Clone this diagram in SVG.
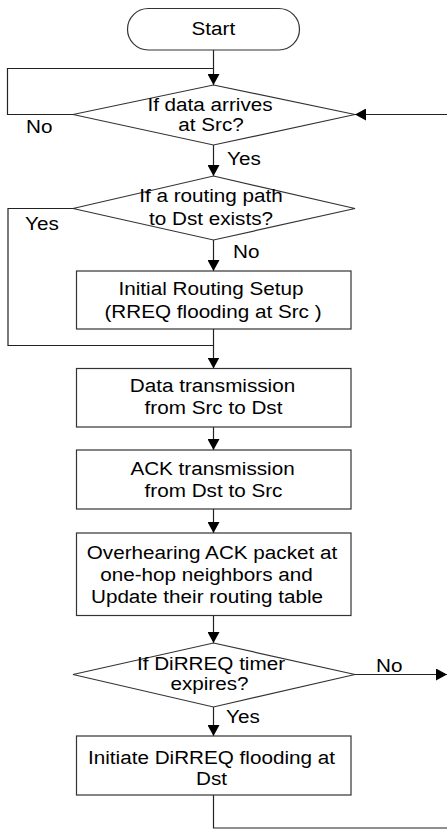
<svg xmlns="http://www.w3.org/2000/svg" width="447" height="829" viewBox="0 0 447 829">
  <style>
    .shape { fill: #ffffff; stroke: #333333; stroke-width: 1.2; }
    .wire { fill: none; stroke: #222222; stroke-width: 1.2; }
    .t { font-family: "Liberation Sans", Arial, sans-serif; font-size: 18.8px; fill: #000000; text-anchor: middle; }
    .lbl { font-family: "Liberation Sans", Arial, sans-serif; font-size: 18.8px; fill: #000000; text-anchor: start; }
  </style>
  <defs>
    <marker id="arrow" markerUnits="userSpaceOnUse" markerWidth="12" markerHeight="12" refX="11" refY="6" orient="auto">
      <path d="M0,0 L11,6 L0,12 Z" fill="#000000"/>
    </marker>
  </defs>

  <rect width="447" height="829" fill="#ffffff"/>

  <!-- connectors -->
  <g id="connectors">
    <path class="wire" d="M213.5,50 V85" marker-end="url(#arrow)"/>
    <path class="wire" d="M73,114.5 H7.5 V68.5 H213.5"/>
    <path class="wire" d="M213.5,145 V176" marker-end="url(#arrow)"/>
    <path class="wire" d="M213.5,240 V271" marker-end="url(#arrow)"/>
    <path class="wire" d="M73,208.5 H8 V345.5 H213.5"/>
    <path class="wire" d="M213.5,329 V368.5" marker-end="url(#arrow)"/>
    <path class="wire" d="M213.5,427 V450" marker-end="url(#arrow)"/>
    <path class="wire" d="M213.5,509 V533" marker-end="url(#arrow)"/>
    <path class="wire" d="M213.5,615.5 V643" marker-end="url(#arrow)"/>
    <path class="wire" d="M355,674.5 H447" marker-end="url(#arrow)"/>
    <path class="wire" d="M213.5,707 V736" marker-end="url(#arrow)"/>
    <path class="wire" d="M213.5,795 V828 H448.5 V114.5 H355" marker-end="url(#arrow)"/>
    <text class="lbl" transform="translate(26 132.5) scale(1.1 1)">No</text>
    <text class="lbl" transform="translate(227 165) scale(1.1 1)">Yes</text>
    <text class="lbl" transform="translate(25 230) scale(1.1 1)">Yes</text>
    <text class="lbl" transform="translate(233 258) scale(1.1 1)">No</text>
    <text class="lbl" transform="translate(376 671.5) scale(1.1 1)">No</text>
    <text class="lbl" transform="translate(226 723) scale(1.1 1)">Yes</text>
  </g>

  <!-- start terminator -->
  <g id="start">
    <rect class="shape" x="127.5" y="8.5" width="172" height="41.5" rx="20.75" ry="20.75"/>
    <text class="t" transform="translate(213.3 35) scale(1.1 1)">Start</text>
  </g>

  <!-- decision: data arrival -->
  <g id="data-arrives">
    <polygon class="shape" points="213.5,85 355,114.5 213.5,145 73,114.5"/>
    <text class="t" transform="translate(210 111) scale(1.1 1)">If data arrives</text>
    <text class="t" transform="translate(211 130.5) scale(1.1 1)">at Src?</text>
  </g>

  <!-- decision: route exists -->
  <g id="path-exists">
    <polygon class="shape" points="213.5,176 355,208.5 213.5,240 73,208.5"/>
    <text class="t" transform="translate(211 201.5) scale(1.1 1)">If a routing path</text>
    <text class="t" transform="translate(211 225) scale(1.1 1)">to Dst exists?</text>
  </g>

  <!-- route setup -->
  <g id="routing-setup">
    <rect class="shape" x="76.5" y="271" width="274.5" height="58"/>
    <text class="t" transform="translate(211 294.5) scale(1.1 1)">Initial Routing Setup</text>
    <text class="t" transform="translate(213 317.5) scale(1.1 1)">(RREQ flooding at Src )</text>
  </g>

  <!-- data transmission -->
  <g id="data-tx">
    <rect class="shape" x="76.5" y="368.5" width="274.5" height="58.5"/>
    <text class="t" transform="translate(212.5 391.5) scale(1.1 1)">Data transmission</text>
    <text class="t" transform="translate(213.5 413.5) scale(1.1 1)">from Src to Dst</text>
  </g>

  <!-- ack transmission -->
  <g id="ack-tx">
    <rect class="shape" x="76.5" y="450" width="274.5" height="59"/>
    <text class="t" transform="translate(212.5 475) scale(1.1 1)">ACK transmission</text>
    <text class="t" transform="translate(213.5 496.5) scale(1.1 1)">from Dst to Src</text>
  </g>

  <!-- overhearing update -->
  <g id="overhearing">
    <rect class="shape" x="76.5" y="533" width="274.5" height="82.5"/>
    <text class="t" transform="translate(212 558.5) scale(1.1 1)">Overhearing ACK packet at</text>
    <text class="t" transform="translate(206.5 580.5) scale(1.1 1)">one-hop neighbors and</text>
    <text class="t" transform="translate(207 602.5) scale(1.1 1)">Update their routing table</text>
  </g>

  <!-- decision: timer -->
  <g id="timer-expires">
    <polygon class="shape" points="213.5,643 355,674.5 213.5,707 73,674.5"/>
    <text class="t" transform="translate(211 669.5) scale(1.1 1)">If DiRREQ timer</text>
    <text class="t" transform="translate(209.5 689.5) scale(1.1 1)">expires?</text>
  </g>

  <!-- dirreq flooding -->
  <g id="dirreq-flood">
    <rect class="shape" x="76.5" y="736" width="274.5" height="59"/>
    <text class="t" transform="translate(211.5 763.5) scale(1.1 1)">Initiate DiRREQ flooding at</text>
    <text class="t" transform="translate(211.5 785) scale(1.1 1)">Dst</text>
  </g>
</svg>
